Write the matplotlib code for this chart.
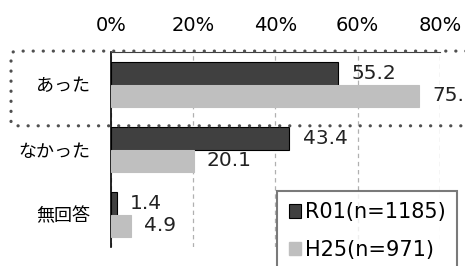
import numpy as np
import matplotlib
matplotlib.use('Agg')
import matplotlib.pyplot as plt
from matplotlib.patches import FancyBboxPatch, Patch

plt.rcParams['font.family'] = ['DejaVu Sans', 'Noto Sans CJK JP']

categories = ['あった', 'なかった', '無回答']
r01 = [55.2, 43.4, 1.4]
h25 = [75.0, 20.1, 4.9]
series_names = ['R01(n=1185)', 'H25(n=971)']
ticks = [0, 20, 40, 60, 80]

fig = plt.figure(figsize=(4.65, 2.66), dpi=100)
ax = fig.add_axes([0.2387, 0.0714, 0.7075, 0.7331])

y = np.arange(len(categories))
h = 0.35
b1 = ax.barh(y - h / 2, r01, height=h, color='#404040', edgecolor='black', linewidth=0.8, zorder=3)
b2 = ax.barh(y + h / 2, h25, height=h, color='#BFBFBF', edgecolor='#BFBFBF', linewidth=0.8, zorder=3)
ax.bar_label(b1, labels=[f'{v:.1f}' for v in r01], padding=9.5, fontsize=14.5, color='#222222', clip_on=False)
ax.bar_label(b2, labels=[f'{v:.1f}' for v in h25], padding=9.5, fontsize=14.5, color='#222222', clip_on=False)

ax.set_xlim(0, 80)
ax.set_ylim(len(categories) - 0.5, -0.5)
ax.set_yticks(y)
ax.set_yticklabels(categories, fontsize=13)
ax.set_xticks(ticks)
ax.set_xticklabels([f'{t}%' for t in ticks], fontsize=14)
ax.xaxis.tick_top()
ax.tick_params(axis='x', length=0, pad=12)
ax.tick_params(axis='y', length=0, pad=15)
ax.grid(axis='x', color='#B0B0B0', linestyle=(0, (3.5, 3)), linewidth=0.9, zorder=0)

for s in ['right', 'bottom']:
    ax.spines[s].set_visible(False)
ax.spines['left'].set_color('black')
ax.spines['left'].set_linewidth(1.2)
ax.spines['top'].set_color('#404040')
ax.spines['top'].set_linewidth(0.8)

# dotted highlight box around the first row
box = FancyBboxPatch((0.0237, 0.527), 1.05, 0.281, transform=fig.transFigure,
                     boxstyle='round,pad=0,rounding_size=0.015',
                     fill=False, edgecolor='#505050', linewidth=2.3,
                     linestyle=(0, (0.05, 3.1)), clip_on=False, zorder=5)
box.set_capstyle('round')
fig.patches.append(box)

handles = [Patch(facecolor='#404040', edgecolor='black', linewidth=0.8),
           Patch(facecolor='#BFBFBF', edgecolor='#BFBFBF')]
leg = fig.legend(handles, series_names, loc='upper left', bbox_to_anchor=(0.596, 0.282),
                 fontsize=15, frameon=True, fancybox=False, handlelength=0.6,
                 handleheight=0.6, handletextpad=0.2, labelspacing=0.85,
                 borderpad=0.55, borderaxespad=0)
leg.get_frame().set_edgecolor('#595959')
leg.get_frame().set_linewidth(1.5)

fig.savefig('out.png', dpi=100)
